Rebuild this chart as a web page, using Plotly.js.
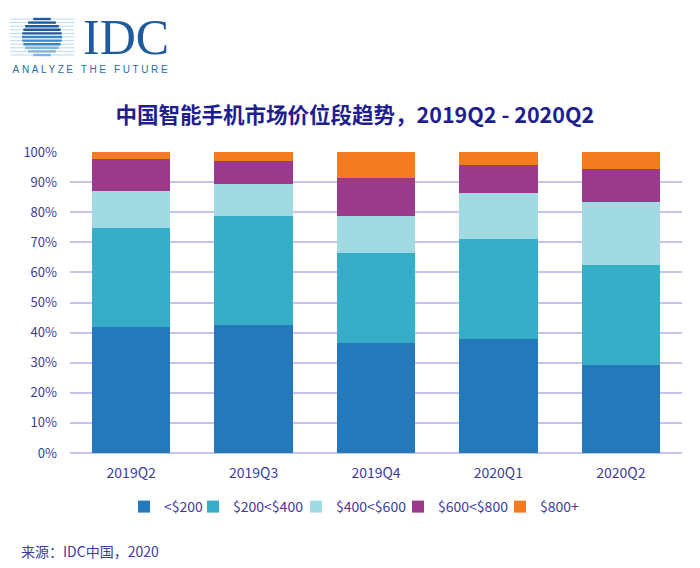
<!DOCTYPE html>
<html>
<head>
<meta charset="utf-8">
<script src="https://cdn.plot.ly/plotly-3.0.1.min.js"></script>
<style>
  body { margin: 0; background: #fff; }
  #chart { width: 700px; height: 568px; }
  /* spread the logo tagline like the original */
  #chart g.annotation[data-index="1"] text { letter-spacing: 2.6px; }
</style>
</head>
<body>
<div id="chart"></div>
<script>
// quarters on the x axis
var quarters = ['2019Q2', '2019Q3', '2019Q4', '2020Q1', '2020Q2'];

// share of shipments per price band, %
var under200   = [42.0, 42.5, 36.7, 37.8, 29.1];
var from200    = [32.9, 36.2, 29.9, 33.2, 33.3];
var from400    = [12.2, 10.7, 12.0, 15.5, 20.9];
var from600    = [10.6,  7.6, 12.9,  9.3, 11.0];
var over800    = [ 2.3,  3.0,  8.5,  4.2,  5.7];

var bandNames  = ['<$200', '$200<$400', '$400<$600', '$600<$800', '$800+'];
var bandColors = ['#2479bd', '#36aec8', '#a2dae4', '#9b3a8b', '#f47b20'];
var bandValues = [under200, from200, from400, from600, over800];
// legend entry widths so the markers sit where the original has them
var legendWidths = [24, 58, 57, 57, 40];

var textColor = '#3c3c9c';

// plot area in pixels: 70..682 across, 152..453 down
var L = 70, R = 682, T = 152, B = 453;
function px(x) { return (x - L) / (R - L); }
function py(y) { return (B - y) / (B - T); }

var data = bandValues.map(function (vals, i) {
    return {
        x: quarters,
        y: vals,
        type: 'bar',
        name: bandNames[i],
        legendwidth: legendWidths[i],
        marker: { color: bandColors[i], line: { width: 0 } },
        hoverinfo: 'x+y+name'
    };
});

// IDC globe: stripes clipped to a circle, plus thin lines sticking out
var shapes = [];
var cx = 42, cy = 37, r = 20;
for (var k = 0; k < 11; k++) {
    var yy = cy - r + 2 + k * 3.6;
    var dy = yy - cy;
    var half = Math.sqrt(Math.max(r * r - dy * dy, 0));
    shapes.push({
        type: 'line', xref: 'paper', yref: 'paper',
        x0: px(10), x1: px(74), y0: py(yy), y1: py(yy),
        line: { color: '#a9cfe8', width: 0.8 }
    });
    shapes.push({
        type: 'line', xref: 'paper', yref: 'paper',
        x0: px(cx - half), x1: px(cx + half), y0: py(yy), y1: py(yy),
        line: { color: k < 5 ? '#1f5b9c' : (k < 8 ? '#3a86c4' : '#7fb6dc'), width: 2.4 }
    });
}

var layout = {
    width: 700,
    height: 568,
    paper_bgcolor: '#ffffff',
    plot_bgcolor: '#ffffff',
    margin: { l: L, r: 700 - R, t: T, b: 568 - B },
    barmode: 'stack',
    bargap: 0.36,
    font: { family: '"Noto Sans CJK SC", "Noto Sans", sans-serif', color: textColor, size: 13 },
    title: {
        text: '<b>中国智能手机市场价位段趋势，2019Q2 - 2020Q2</b>',
        font: { family: '"Noto Sans CJK SC", sans-serif', size: 21.5, color: '#1e1e8e' },
        x: 0.507, xanchor: 'center',
        y: 1 - 115 / 568, yanchor: 'middle', yref: 'container'
    },
    xaxis: {
        type: 'category',
        tickfont: { size: 14, color: textColor },
        showline: false,
        ticks: '',
        ticklabelstandoff: 10
    },
    yaxis: {
        range: [0, 100],
        dtick: 10,
        ticksuffix: '%',
        tickfont: { size: 13, color: textColor },
        gridcolor: '#c4c4ee',
        gridwidth: 1.5,
        zeroline: true,
        zerolinecolor: '#c4c4ee',
        zerolinewidth: 1.5,
        ticks: '',
        ticklabelstandoff: 12
    },
    legend: {
        orientation: 'h',
        xref: 'container', yref: 'container',
        x: 124 / 700, xanchor: 'left',
        y: 1 - 507 / 568, yanchor: 'middle',
        font: { size: 14, color: textColor },
        itemwidth: 30,
        traceorder: 'normal'
    },
    shapes: shapes,
    annotations: [
        {
            text: 'IDC', xref: 'paper', yref: 'paper',
            x: px(81), y: py(37), xanchor: 'left', yanchor: 'middle',
            showarrow: false,
            font: { family: '"Liberation Serif", "DejaVu Serif", serif', size: 50, color: '#1f5b9c' }
        },
        {
            text: 'ANALYZE THE FUTURE', xref: 'paper', yref: 'paper',
            x: px(91), y: py(69), xanchor: 'center', yanchor: 'middle',
            showarrow: false,
            font: { family: '"Liberation Sans", sans-serif', size: 10, color: '#2a6aa8' }
        },
        {
            text: '来源：IDC中国，2020', xref: 'paper', yref: 'paper',
            x: px(19), y: py(551), xanchor: 'left', yanchor: 'middle',
            showarrow: false,
            font: { family: '"Noto Sans CJK SC", sans-serif', size: 14, color: textColor }
        }
    ]
};

Plotly.newPlot(document.getElementById('chart'), data, layout, { displayModeBar: false });
</script>
</body>
</html>
